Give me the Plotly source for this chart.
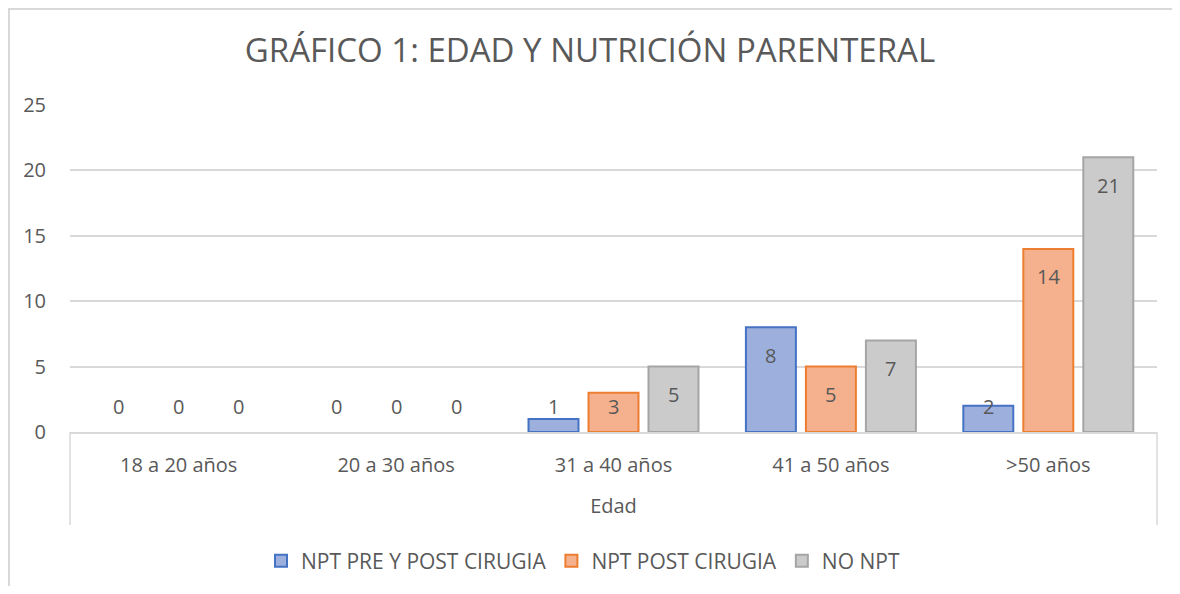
import plotly.graph_objects as go

categories = ["18 a 20 años", "20 a 30 años", "31 a 40 años", "41 a 50 años", ">50 años"]
series_names = ["NPT PRE Y POST CIRUGIA", "NPT POST CIRUGIA", "NO NPT"]
npt_pre_post = [0, 0, 1, 8, 2]
npt_post = [0, 0, 3, 5, 14]
no_npt = [0, 0, 5, 7, 21]
y_ticks = [0, 5, 10, 15, 20, 25]

series_values = [npt_pre_post, npt_post, no_npt]
fills = ["#9DB0DD", "#F5B08D", "#CBCBCB"]
borders = ["#4472C4", "#ED7D31", "#A5A5A5"]

FONT = "'Open Sans', sans-serif"
TXT = "#595959"
FS = 20
FS_LEG = 21

# page body has an 8px margin on every side; keep the figure inside the window
OFF = 8
W, H = 1180 - 2 * OFF, 594 - 2 * OFF
PL, PR, PT, PB = 70, 1157, 105, 432  # plot area in screenshot pixels
ML, MT = PL - OFF, PT - OFF
MR = W - (PR - OFF)
MB = H - (PB - OFF)
plot_h = PB - PT
plot_w = PR - PL
px_per_unit = plot_h / 25.0

fig = go.Figure()
for name, vals, fc, lc in zip(series_names, series_values, fills, borders):
    fig.add_trace(go.Bar(
        x=categories, y=[v if v > 0 else None for v in vals], name=name,
        marker=dict(color=fc, line=dict(color=lc, width=2)),
    ))

annotations = []
slot_px = plot_w / len(categories) * (1 - 0.172) / 3
for si, vals in enumerate(series_values):
    for cat, v in zip(categories, vals):
        ylab = max(v - 28 / px_per_unit, 26 / px_per_unit)
        annotations.append(dict(
            x=cat, y=ylab, xref="x", yref="y", text=str(v), showarrow=False,
            xshift=(si - 1) * slot_px, yanchor="middle",
            font=dict(family=FONT, size=FS, color=TXT),
        ))

def py(pix):
    return (PB - pix) / plot_h

def px(pix):
    return (pix - PL) / plot_w

def cy(pix):
    return 1 - (pix - OFF) / H

shapes = []
for xp in [0, 1]:
    shapes.append(dict(type="line", xref="paper", yref="paper", x0=xp, x1=xp,
                       y0=0, y1=py(525), line=dict(color="#D9D9D9", width=1.5)))
# outer chart border: only left and top edges are visible in the frame
bx0, bx1, by0, by1 = px(9), px(1300), py(700), py(9)
shapes.append(dict(type="path", xref="paper", yref="paper",
                   path=f"M {bx0},{by0} L {bx0},{by1} L {bx1},{by1}",
                   line=dict(color="#D9D9D9", width=2)))

fig.update_layout(
    width=W, height=H,
    margin=dict(l=ML, r=MR, t=MT, b=MB, autoexpand=False),
    paper_bgcolor="white", plot_bgcolor="white",
    barmode="group", bargap=0.172, bargroupgap=0.167,
    title=dict(text="GRÁFICO 1: EDAD Y NUTRICIÓN PARENTERAL", x=0.5, xanchor="center",
               y=cy(50), yanchor="middle",
               font=dict(family=FONT, size=33, color=TXT)),
    font=dict(family=FONT, size=FS, color=TXT),
    xaxis=dict(
        type="category", showgrid=False, showline=True, linecolor="#D9D9D9", linewidth=1.5,
        ticks="outside", ticklen=14, tickcolor="rgba(0,0,0,0)", automargin=False,
        tickfont=dict(family=FONT, size=FS, color=TXT),
        title=dict(text="Edad", standoff=22, font=dict(family=FONT, size=FS, color=TXT)),
    ),
    yaxis=dict(
        range=[0, 25], tickvals=y_ticks, showgrid=True, gridcolor="#D9D9D9", gridwidth=1.5,
        zeroline=False, showline=False, ticks="", ticklabelstandoff=23, automargin=False,
        tickfont=dict(family=FONT, size=FS, color=TXT),
    ),
    legend=dict(orientation="h", x=px(600 - 17), xanchor="center",
                yref="container", y=cy(561), yanchor="middle",
                font=dict(family=FONT, size=FS_LEG, color=TXT),
                itemwidth=30, traceorder="normal"),
    annotations=annotations,
    shapes=shapes,
)

fig.write_html("out.html")
